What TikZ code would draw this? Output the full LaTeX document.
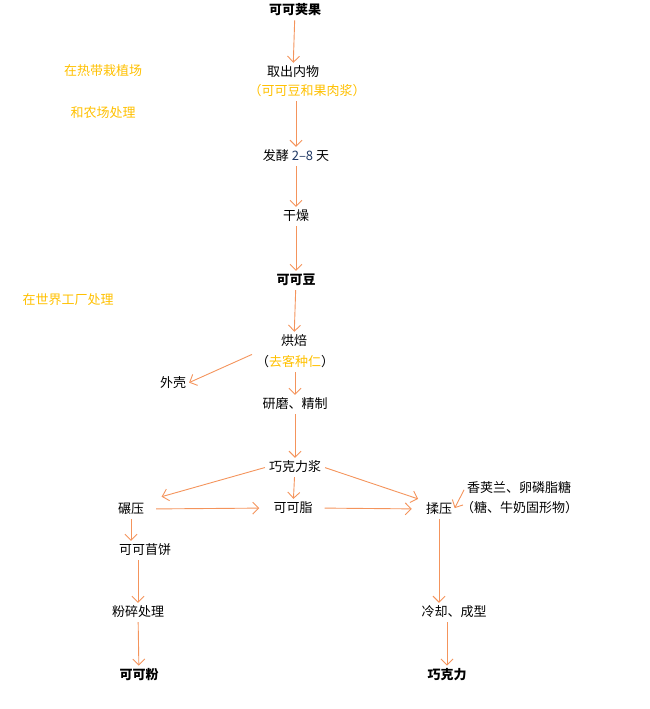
\documentclass[tikz,border=0pt]{standalone}
\usepackage{fontspec}
\setmainfont{Noto Sans CJK SC}
\usetikzlibrary{arrows.meta}
\definecolor{arrowc}{HTML}{F4945C}
\definecolor{gold}{HTML}{FFC000}
\definecolor{navy}{HTML}{1F3864}
\tikzset{
  arr/.style={draw=arrowc, line width=0.9pt, -{Straight Barb[length=6pt,width=12pt]}, shorten >=1pt, shorten <=2pt},
  txt/.style={font=\fontsize{13}{15}\selectfont, inner sep=2pt},
  note/.style={txt, text=gold},
  bold/.style={txt, font=\fontsize{13}{15}\selectfont\bfseries}
}
\begin{document}
\begin{tikzpicture}[x=1pt, y=-1pt]
\useasboundingbox (0,0) rectangle (649,709);
% left notes
\node[note] (n1) at (103,71) {在热带栽植场};
\node[note] (n2) at (103,113) {和农场处理};
\node[note] (n3) at (68,300) {在世界工厂处理};
% main column
\node[bold] (kkjg) at (295,10) {可可荚果};
\node[txt] (qcnw) at (293,72) {取出内物};
\node[note] (qcnw2) at (307,91) {（可可豆和果肉浆）};
\node[txt] (fj) at (296,156) {发酵 \textcolor{navy}{2--8} 天};
\node[txt] (gz) at (296,216) {干燥};
\node[bold] (kkd) at (296,280) {可可豆};
\node[txt] (hb) at (294,341) {烘焙};
\node[txt] (hb2) at (295,362) {（\textcolor{gold}{去客种仁}）};
\node[txt] (wk) at (173,383) {外壳};
\node[txt] (ym) at (295,404) {研磨、精制};
\node[txt] (qkj) at (295,467) {巧克力浆};
% cocoa branch
\node[txt] (ny) at (131,509) {碾压};
\node[txt] (kkz) at (293,508) {可可脂};
\node[txt] (kkb) at (145,550) {可可苜饼};
\node[txt] (fs) at (138,612) {粉碎处理};
\node[bold] (kkf) at (139,675) {可可粉};
% chocolate branch
\node[txt] (ry) at (439,509) {揉压};
\node[txt, anchor=west] (xjl) at (465,488) {香荚兰、卵磷脂糖};
\node[txt, anchor=west] (tnn) at (459,508) {（糖、牛奶固形物）};
\node[txt] (lq) at (454,612) {冷却、成型};
\node[bold] (qkl) at (447,675) {巧克力};
% arrows
\draw[arr] (kkjg) -- (qcnw);
\draw[arr] (qcnw2.south -| fj.north) -- (fj);
\draw[arr] (fj) -- (gz);
\draw[arr] (gz) -- (kkd);
\draw[arr] (kkd) -- (hb);
\draw[arr] (hb2.north west) -- (wk.east);
\draw[arr] (hb2) -- (ym);
\draw[arr] (ym) -- (qkj);
\draw[arr, shorten >=16pt] (qkj.west) -- (ny.north east);
\draw[arr] (qkj) -- (kkz);
\draw[arr, shorten >=6pt] (qkj.east) -- (ry.north west);
\draw[arr, shorten <=10pt, shorten >=12pt] (ny.east) -- (kkz.west);
\draw[arr, shorten <=10pt, shorten >=12pt] (kkz.east) -- (ry.west);
\draw[arr] (xjl.west) -- (ry.east);
\draw[arr] (ny.south) -- (ny.south |- kkb.north);
\draw[arr] (fs.north |- kkb.south) -- (fs.north);
\draw[arr] (fs) -- (kkf);
\draw[arr] (ry.south) -- (ry.south |- lq.north);
\draw[arr] (qkl.north |- lq.south) -- (qkl.north);
\end{tikzpicture}
\end{document}
